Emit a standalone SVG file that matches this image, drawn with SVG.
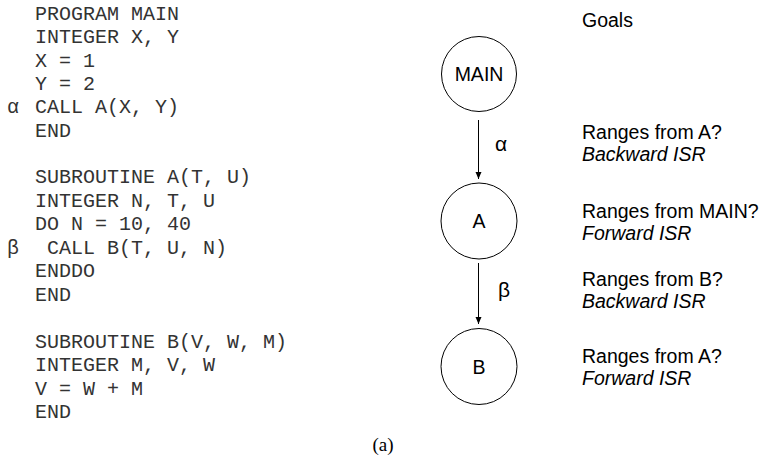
<svg xmlns="http://www.w3.org/2000/svg" width="766" height="466" viewBox="0 0 766 466">
<style>
.code{font-family:"Liberation Mono","Courier New",monospace;font-size:20px;fill:#333;}
.lbl{font-family:"Liberation Sans",Arial,sans-serif;font-size:19.5px;fill:#000;}
.nl{font-family:"Liberation Sans",Arial,sans-serif;font-size:19.5px;fill:#000;}
.gr{font-family:"Liberation Sans",Arial,sans-serif;font-size:21px;fill:#000;}
.it{font-style:italic;}
.node circle{fill:#fff;stroke:#000;stroke-width:1;}
.conn line{stroke:#000;stroke-width:1;}
</style>
<defs>
<marker id="arr" markerWidth="8" markerHeight="8" refX="7" refY="4" orient="auto" markerUnits="userSpaceOnUse">
<path d="M0,1 L7,4 L0,7 Z" fill="#000"/>
</marker>
</defs>
<g id="code">
<text class="code" x="35" y="20">PROGRAM MAIN</text>
<text class="code" x="35" y="43">INTEGER X, Y</text>
<text class="code" x="35" y="67">X = 1</text>
<text class="code" x="35" y="90">Y = 2</text>
<text class="code" x="7" y="113">α</text>
<text class="code" x="35" y="113">CALL A(X, Y)</text>
<text class="code" x="35" y="137">END</text>
<text class="code" x="35" y="183">SUBROUTINE A(T, U)</text>
<text class="code" x="35" y="207">INTEGER N, T, U</text>
<text class="code" x="35" y="230">DO N = 10, 40</text>
<text class="code" x="7" y="254">β</text>
<text class="code" x="35" y="254" xml:space="preserve"> CALL B(T, U, N)</text>
<text class="code" x="35" y="277">ENDDO</text>
<text class="code" x="35" y="301">END</text>
<text class="code" x="35" y="348">SUBROUTINE B(V, W, M)</text>
<text class="code" x="35" y="371">INTEGER M, V, W</text>
<text class="code" x="35" y="395">V = W + M</text>
<text class="code" x="35" y="418">END</text>
</g>
<g class="conn" id="connectors">
<line x1="478.5" y1="120" x2="478.5" y2="179" marker-end="url(#arr)"/>
<text class="gr" x="495" y="151">α</text>
<line x1="478.5" y1="263" x2="478.5" y2="324" marker-end="url(#arr)"/>
<text class="gr" x="498" y="297">β</text>
</g>
<g class="node" id="node-main">
<circle cx="479" cy="74" r="37.5"/>
<text class="nl" x="479" y="81" text-anchor="middle">MAIN</text>
</g>
<g class="node" id="node-a">
<circle cx="479" cy="221" r="38"/>
<text class="nl" x="479" y="228" text-anchor="middle">A</text>
</g>
<g class="node" id="node-b">
<circle cx="479" cy="366.5" r="38"/>
<text class="nl" x="479" y="374" text-anchor="middle">B</text>
</g>
<g id="goals">
<text class="lbl" x="582" y="27">Goals</text>
<text class="lbl" x="582" y="139">Ranges from A?</text>
<text class="lbl it" x="582" y="161">Backward ISR</text>
<text class="lbl" x="582" y="218">Ranges from MAIN?</text>
<text class="lbl it" x="582" y="240">Forward ISR</text>
<text class="lbl" x="582" y="286">Ranges from B?</text>
<text class="lbl it" x="582" y="308">Backward ISR</text>
<text class="lbl" x="582" y="363">Ranges from A?</text>
<text class="lbl it" x="582" y="385">Forward ISR</text>
</g>
<text x="383" y="451" text-anchor="middle" style="font-family:'Liberation Serif','Times New Roman',serif;font-size:19px;fill:#000">(a)</text>
</svg>
